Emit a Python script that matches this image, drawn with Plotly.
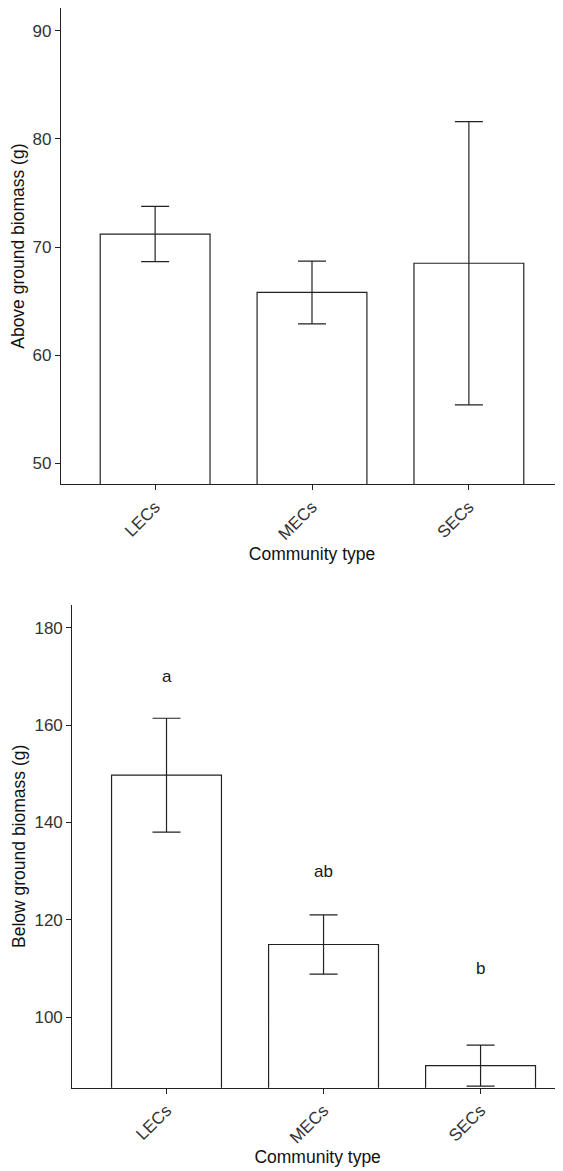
import plotly.graph_objects as go

categories = ["LECs", "MECs", "SECs"]
above_mean = [71.2, 65.8, 68.5]
above_se = [2.55, 2.9, 13.1]
below_mean = [149.7, 114.9, 90.0]
below_se = [11.7, 6.1, 4.2]
below_letters = ["a", "ab", "b"]
below_letter_y = [170, 130, 110]

# page has an 8px body margin; figure occupies page px 8..563
W, H = 555, 1163
OFF = 8
FONT = "Liberation Sans, Arial, sans-serif"
AX = "#222222"
TICK_SIZE = 17
TITLE_SIZE = 17.5


def px_x(p):
    return min(1.0, max(0.0, (p - OFF) / W))


def px_y(p):
    return min(1.0, max(0.0, 1 - (p - OFF) / H))


fig = go.Figure()

bar_style = dict(
    marker=dict(color="white", line=dict(color=AX, width=1.2)),
    width=0.7,
    showlegend=False,
)
err_style = dict(type="data", visible=True, color=AX, thickness=1.2, width=14)

fig.add_trace(go.Bar(x=categories, y=above_mean,
                     error_y=dict(array=above_se, **err_style),
                     xaxis="x", yaxis="y", **bar_style))
fig.add_trace(go.Bar(x=categories, y=below_mean,
                     error_y=dict(array=below_se, **err_style),
                     xaxis="x2", yaxis="y2", **bar_style))

for lab, cat, yv in zip(below_letters, categories, below_letter_y):
    fig.add_annotation(x=cat, y=yv, xref="x2", yref="y2", text=lab,
                       showarrow=False, font=dict(family=FONT, size=TICK_SIZE, color="#1a1a1a"))

common_x = dict(type="category", showline=True, linecolor=AX,
                linewidth=1.2, ticks="outside", ticklen=5, tickcolor=AX, tickwidth=1.2,
                tickangle=-45, showgrid=False, zeroline=False,
                tickfont=dict(family=FONT, size=TICK_SIZE, color="#333333"),
                title=dict(text="Community type", standoff=4,
                           font=dict(family=FONT, size=TITLE_SIZE, color="#111111")))
common_y = dict(showline=True, linecolor=AX, linewidth=1.2, ticks="outside", ticklen=5,
                tickcolor=AX, tickwidth=1.2, showgrid=False, zeroline=False,
                tickfont=dict(family=FONT, size=TICK_SIZE, color="#333333"))

fig.update_layout(
    width=W, height=H,
    margin=dict(l=0, r=0, t=0, b=0),
    paper_bgcolor="white", plot_bgcolor="white",
    xaxis=dict(domain=[px_x(61), 1.0], anchor="y", range=[-0.6, 2.6], **common_x),
    yaxis=dict(domain=[px_y(484.3), 1.0], anchor="x", range=[48.06, 92.1],
               tickvals=[50, 60, 70, 80, 90],
               title=dict(text="Above ground biomass (g)", standoff=4,
                          font=dict(family=FONT, size=TITLE_SIZE, color="#111111")),
               **common_y),
    xaxis2=dict(domain=[px_x(72.3), 1.0], anchor="y2", range=[-0.6, 2.525], **common_x),
    yaxis2=dict(domain=[px_y(1087.7), px_y(605)], anchor="x2", range=[85.47, 184.67],
                tickvals=[100, 120, 140, 160, 180],
                title=dict(text="Below ground biomass (g)", standoff=4,
                           font=dict(family=FONT, size=TITLE_SIZE, color="#111111")),
                **common_y),
)

fig.write_html("out.html")
